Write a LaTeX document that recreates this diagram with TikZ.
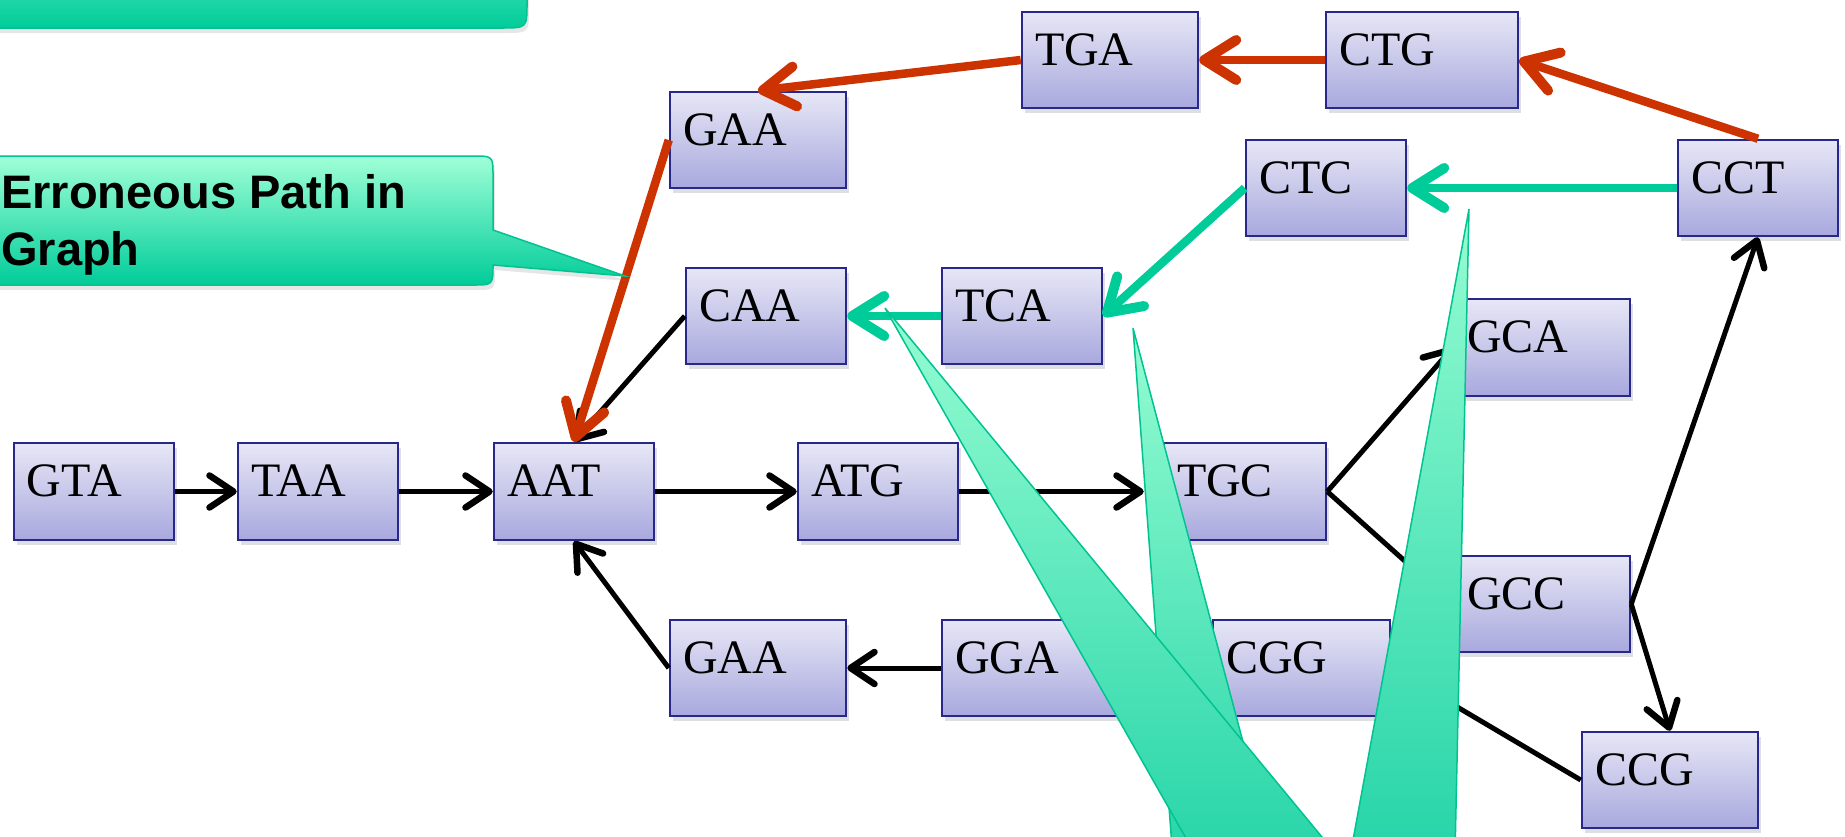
\documentclass[tikz,border=0pt]{standalone}
\usepackage{fontspec}
\setmainfont{Liberation Serif}
\newfontfamily\callfont{Liberation Sans}
\usetikzlibrary{arrows.meta,shadows}
\definecolor{boxtop}{RGB}{231,231,246}
\definecolor{boxbot}{RGB}{168,168,222}
\definecolor{boxline}{RGB}{40,40,140}
\definecolor{errred}{RGB}{204,51,0}
\definecolor{mint}{RGB}{0,204,153}
\definecolor{mintlight}{RGB}{160,255,215}
\definecolor{minttip}{RGB}{150,252,210}
\definecolor{mintdark}{RGB}{30,210,165}
\definecolor{mintline}{RGB}{0,195,145}
\newcommand\dnabox[6]{%
  \pgfmathsetmacro\bw{#4-#2}%
  \pgfmathsetmacro\bh{#5-#3}%
  \pgfmathsetmacro\tw{#4-#2-26}%
  \node[dnab, minimum width=\bw pt, minimum height=\bh pt, text width=\tw pt] (#1) at ({(#2+#4)/2},{(#3+#5)/2}) {#6};}
\tikzset{
  dnab/.style={draw=boxline, line width=2.5pt, top color=boxtop, bottom color=boxbot,
    inner xsep=13pt, inner ysep=0pt, align=left,
    font=\fontsize{48}{56}\selectfont, text height=30pt, text depth=20pt,
    drop shadow={opacity=0.25, shadow xshift=3pt, shadow yshift=-5pt, fill=black!50}},
  blkedge/.style={draw=black, line width=5pt,
    -{Straight Barb[length=24pt,width=32pt,line width=6.5pt,round]}},
  rededge/.style={draw=errred, line width=8.5pt,
    -{Straight Barb[length=32pt,width=40pt,line width=10pt,round]}},
  grnedge/.style={draw=mint, line width=8.5pt,
    -{Straight Barb[length=32pt,width=40pt,line width=10pt,round]}},
  callshape/.style={draw=mintline, line width=1.5pt, top color=mintlight, bottom color=mint,
    drop shadow={opacity=0.2, shadow xshift=2pt, shadow yshift=-5pt, fill=black!50}},
  pointer/.style={draw=mintline, line width=1.5pt, top color=minttip, bottom color=mintdark},
  calltext/.style={anchor=base west, inner sep=0pt, font=\callfont\bfseries\fontsize{47}{56}\selectfont}
}
\begin{document}
\begin{tikzpicture}[x=1pt,y=-1pt]
\useasboundingbox (0,0) rectangle (1845,836);
\clip (0,0) rectangle (1845,836);

% boxes
\dnabox{GTA}{14}{443}{174}{540}{GTA}
\dnabox{TAA}{238}{443}{398}{540}{TAA}
\dnabox{AAT}{494}{443}{654}{540}{AAT}
\dnabox{ATG}{798}{443}{958}{540}{ATG}
\dnabox{TGC}{1164}{443}{1326}{540}{TGC}
\dnabox{GCA}{1454}{299}{1630}{396}{GCA}
\dnabox{GCC}{1454}{556}{1630}{652}{GCC}
\dnabox{CGG}{1213}{620}{1390}{716}{CGG}
\dnabox{CCG}{1582}{732}{1758}{828}{CCG}
\dnabox{GAAb}{670}{620}{846}{716}{GAA}
\dnabox{GGA}{942}{620}{1116}{716}{GGA}
\dnabox{CAA}{686}{268}{846}{364}{CAA}
\dnabox{TCA}{942}{268}{1102}{364}{TCA}
\dnabox{GAAt}{670}{92}{846}{188}{GAA}
\dnabox{TGA}{1022}{12}{1198}{108}{TGA}
\dnabox{CTG}{1326}{12}{1518}{108}{CTG}
\dnabox{CTC}{1246}{140}{1406}{236}{CTC}
\dnabox{CCT}{1678}{140}{1838}{236}{CCT}

% black edges
\draw[blkedge] (GTA.east) -- (TAA.west);
\draw[blkedge] (TAA.east) -- (AAT.west);
\draw[blkedge] (AAT.east) -- (ATG.west);
\draw[blkedge, shorten >=19pt] (ATG.east) -- (TGC.west);
\draw[blkedge] (TGC.east) -- (GCA.west);
\draw[blkedge] (TGC.east) -- (GCC.west);
\draw[blkedge] (GCC.east) -- (CCT.south);
\draw[blkedge] (GCC.east) -- (CCG.north);
\draw[blkedge] (CCG.west) -- (CGG.east);
\draw[blkedge] (GGA.west) -- (GAAb.east);
\draw[blkedge] (GAAb.west) -- (AAT.south);
\draw[blkedge] (CAA.west) -- (AAT.north);

% red erroneous path
\draw[rededge] (GAAt.west) -- (AAT.north);
\draw[rededge] (TGA.west) -- (GAAt.north);
\draw[rededge] (CTG.west) -- (TGA.east);
\draw[rededge] (CCT.north) -- (CTG.east);

% green path
\draw[grnedge] (CCT.west) -- (CTC.east);
\draw[grnedge] (CTC.west) -- (TCA.east);
\draw[grnedge] (TCA.west) -- (CAA.east);

% top callout (cut off)
\path[callshape] (-30,-120) -- (527,-120) -- (527,3) .. controls (527,28) .. (502,28) -- (-30,28) -- cycle;

% erroneous path callout
\path[callshape] (-30,156) -- (473,156) .. controls (493,156) .. (493,176) -- (493,230)
  -- (625,276) -- (493,265) .. controls (493,285) .. (473,285) -- (-30,285) -- cycle;
\node[calltext] (errA) at (1,208) {Erroneous Path in};
\node[calltext] (errB) at (1,265) {Graph};

% pointers of the lower callout
\path[pointer] (1133,328) -- (1285,900) -- (1176,900) -- cycle;
\path[pointer] (885,308) -- (1374,900) -- (1221,900) -- cycle;
\path[pointer] (1469,209) -- (1454,900) -- (1342,900) -- cycle;
\end{tikzpicture}
\end{document}
